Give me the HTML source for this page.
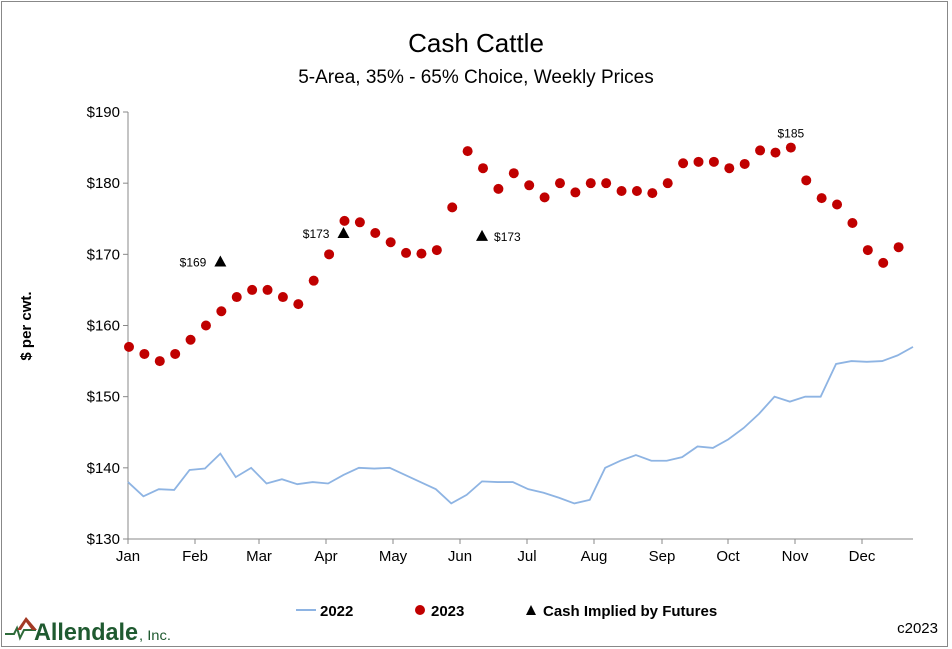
<!DOCTYPE html>
<html><head><meta charset="utf-8"><style>
body{margin:0;background:#fff;font-family:"Liberation Sans",Arial,sans-serif;}
#wrap{position:relative;width:952px;height:649px;overflow:hidden}
</style></head><body>
<div id="wrap">
<svg id="chart" width="952" height="649" xmlns="http://www.w3.org/2000/svg">
<rect x="1.5" y="1.5" width="946" height="645" fill="#fff" stroke="#888"/>
<text x="476" y="52" text-anchor="middle" font-size="26" fill="#000">Cash Cattle</text>
<text x="476" y="83" text-anchor="middle" font-size="19" fill="#000">5-Area, 35% - 65% Choice, Weekly Prices</text>
<text transform="translate(31,326) rotate(-90)" text-anchor="middle" font-size="15" font-weight="bold">$ per cwt.</text>
<g id="axes"></g><g id="marks"></g>
<g>
<line x1="296" y1="610" x2="316" y2="610" stroke="#8eb4e3" stroke-width="2"/>
<text x="320" y="616" font-size="15" font-weight="bold">2022</text>
<circle cx="420" cy="610" r="5" fill="#c00000"/>
<text x="431" y="616" font-size="15" font-weight="bold">2023</text>
<path d="M526,615 L531,605 L536,615 Z" fill="#000"/>
<text x="543" y="616" font-size="15" font-weight="bold">Cash Implied by Futures</text>
</g>
<text x="938" y="633" text-anchor="end" font-size="15">c2023</text>
<g>
<path d="M5,634 L14,634 L17,628 L20,638 L24,630 L36,630" fill="none" stroke="#2e6b3a" stroke-width="2"/>
<path d="M17,630 L26,617 L37,630 L32,630 L26,622 L21,630 Z" fill="#a33a25"/>
<text x="34" y="640" font-size="24" font-weight="bold" fill="#1f5a30" textLength="104" lengthAdjust="spacingAndGlyphs">Allendale</text>
<text x="139" y="640" font-size="14" fill="#1f5a30" textLength="32" lengthAdjust="spacingAndGlyphs">, Inc.</text>
</g>
</svg></div>
<script>
const months=["Jan","Feb","Mar","Apr","May","Jun","Jul","Aug","Sep","Oct","Nov","Dec"];
const monthX=[128,195,259,326,393,460,527,594,662,728,795,862];
const yTicks=[130,140,150,160,170,180,190];
const s2022=[138,136,137,136.9,139.7,139.9,142,138.7,140,137.8,138.4,137.7,138,137.8,139,140,139.9,140,139,138,137,135,136.2,138.1,138,138,137,136.5,135.8,135,135.5,140,141,141.8,141,141,141.5,143,142.8,144,145.6,147.6,150,149.3,150,150,154.6,155,154.9,155,155.8,157];
const s2023=[157,156,155,156,158,160,162,164,165,165,164,163,166.3,170,174.7,174.5,173,171.7,170.2,170.1,170.6,176.6,184.5,182.1,179.2,181.4,179.7,178,180,178.7,180,180,178.9,178.9,178.6,180,182.8,183,183,182.1,182.7,184.6,184.3,185,180.4,177.9,177,174.4,170.6,168.8,171];
const futWeeks=[6,14,23];
const futVals=[169,173,172.6];
const futLabels=["$169","$173","$173"];
const X0=128,X1=913,Y0=539,Y1=112,YMIN=130,YMAX=190;
const xs=i=>X0+i*(X1-X0)/51;
const ys=v=>Y0-(v-YMIN)/(YMAX-YMIN)*(Y0-Y1);
const NS="http://www.w3.org/2000/svg";
function mk(t,a,p){const e=document.createElementNS(NS,t);for(const k in a)e.setAttribute(k,a[k]);p.appendChild(e);return e;}
const ax=document.getElementById('axes'),mg=document.getElementById('marks');
let e=mk('line',{x1:X0,y1:Y1,x2:X0,y2:Y0,stroke:'#888'},ax);


e=mk('line',{x1:X0,y1:Y0,x2:X1,y2:Y0,stroke:'#888'},ax);


yTicks.forEach(v=>{
 mk('line',{x1:X0-5,y1:ys(v),x2:X0,y2:ys(v),stroke:'#888'},ax);
 const t=mk('text',{x:X0-8,y:ys(v)+5,'text-anchor':'end','font-size':15},ax);t.textContent='$'+v;
 
 
});
months.forEach((m,i)=>{
 mk('line',{x1:monthX[i],y1:Y0,x2:monthX[i],y2:Y0+5,stroke:'#888'},ax);
 const t=mk('text',{x:monthX[i],y:Y0+22,'text-anchor':'middle','font-size':15},ax);t.textContent=m;
 
 
});
const ln=mk('polyline',{points:s2022.map((v,i)=>xs(i)+','+ys(v)).join(' '),fill:'none',stroke:'#8eb4e3','stroke-width':1.8},mg);


s2023.forEach((v,i)=>{
 const c=mk('circle',{cx:xs(i)+1,cy:ys(v),r:5,fill:'#c00000'},mg);
 
 
});
let mi=s2023.indexOf(Math.max(...s2023));
const ml=mk('text',{x:xs(mi)+1,y:ys(s2023[mi])-10,'text-anchor':'middle','font-size':12},mg);ml.textContent='$'+Math.round(s2023[mi]);


futWeeks.forEach((w,i)=>{
 const x=xs(w),y=ys(futVals[i]);
 const p=mk('path',{d:`M${x-6},${y+5} L${x},${y-6} L${x+6},${y+5} Z`,fill:'#000'},mg);
 
 
 const right=i==2;
 const t=mk('text',{x:right?x+12:x-14,y:y+5,'text-anchor':right?'start':'end','font-size':12},mg);t.textContent=futLabels[i];
 
 
});
</script>
</body></html>
